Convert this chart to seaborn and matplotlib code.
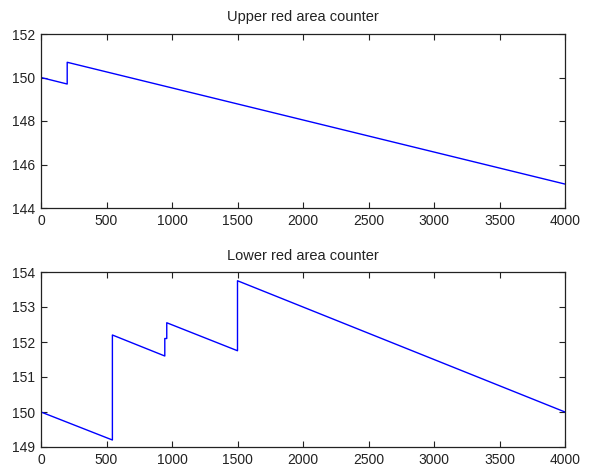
import matplotlib
matplotlib.use("Agg")
import matplotlib.pyplot as plt
import seaborn as sns
import pandas as pd

# Upper red area counter: breakpoints (x, value)
upper_x = [0, 200, 200, 4000]
upper_y = [150.0, 149.7, 150.7, 145.1]

# Lower red area counter: breakpoints (x, value)
lower_x = [0, 545, 545, 945, 945, 960, 960, 1500, 1500, 4000]
lower_y = [150.0, 149.2, 152.2, 151.6, 152.1, 152.1, 152.55, 151.75, 153.75, 150.0]

titles = ["Upper red area counter", "Lower red area counter"]
x_ticks = [0, 500, 1000, 1500, 2000, 2500, 3000, 3500, 4000]
upper_ticks = [144, 146, 148, 150, 152]
lower_ticks = [149, 150, 151, 152, 153, 154]

sns.set_style("ticks")
plt.rcParams['font.family'] = ['Liberation Sans', 'DejaVu Sans']

fig = plt.figure(figsize=(5.9, 4.68), dpi=100)
ax1 = fig.add_axes([41/590, 1 - 208/468, (565-41)/590, (208-34)/468])
ax2 = fig.add_axes([41/590, 1 - 447/468, (565-41)/590, (447-272)/468])

for ax, xs, ys, title, yt in [
    (ax1, upper_x, upper_y, titles[0], upper_ticks),
    (ax2, lower_x, lower_y, titles[1], lower_ticks),
]:
    df = pd.DataFrame({"x": xs, "y": ys})
    sns.lineplot(data=df, x="x", y="y", sort=False, estimator=None,
                 color=(0, 0, 1), linewidth=1.0, ax=ax)
    ax.set_xlim(x_ticks[0], x_ticks[-1])
    ax.set_ylim(yt[0], yt[-1])
    ax.set_xticks(x_ticks)
    ax.set_yticks(yt)
    ax.set_xlabel("")
    ax.set_ylabel("")
    ax.set_title(title, fontsize=10.5, color="#222222", pad=9)
    ax.tick_params(direction="in", top=True, right=True, labelsize=10,
                   length=4, width=0.8, colors="#222222", pad=4)
    for s in ax.spines.values():
        s.set_visible(True)
        s.set_linewidth(0.9)
        s.set_color("#222222")

fig.savefig("out.png", dpi=100)
